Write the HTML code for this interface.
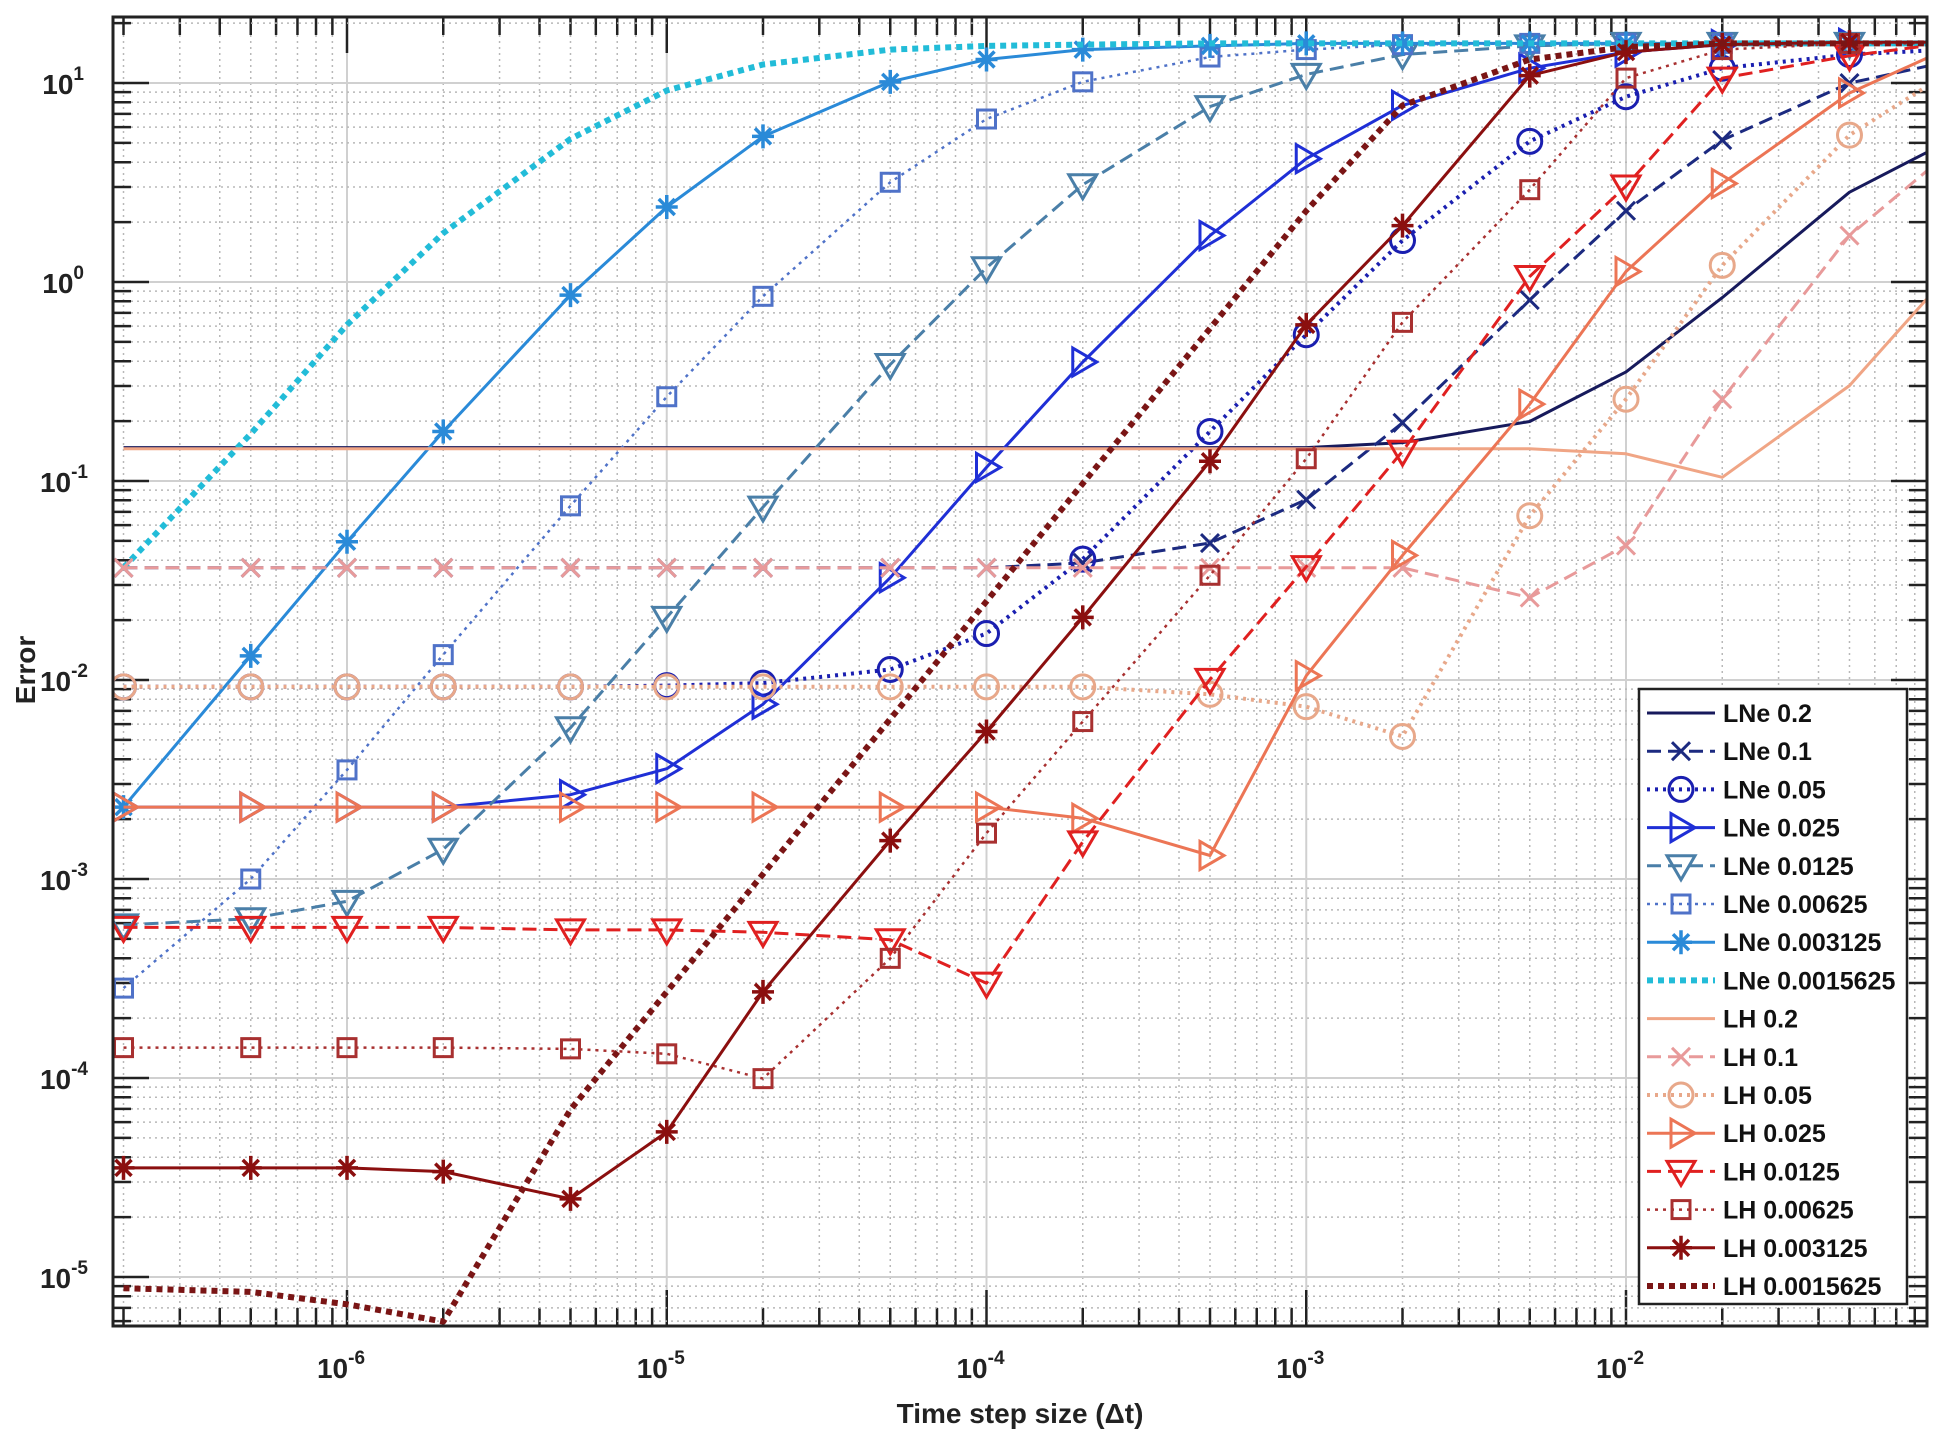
<!DOCTYPE html>
<html><head><meta charset="utf-8"><style>
html,body{margin:0;padding:0;background:#fff;}
svg{display:block;font-family:"Liberation Sans",Arial,sans-serif;}
</style></head><body>
<svg id="s" width="1944" height="1438" xmlns="http://www.w3.org/2000/svg"></svg>
<script>
const S=1.2398;
const L=113,R=1927,T=17,B=1326;
const X=lg=>347+(lg+6)*319.75;
const Y=lg=>83+(1-lg)*199;
let h='';
h+=`<rect x="0" y="0" width="1944" height="1438" fill="#fff"/>`;
h+=`<defs><clipPath id="c"><rect x="${L}" y="${T}" width="${R-L}" height="${B-T}"/></clipPath></defs>`;
const xmin=Math.log10(1.86e-7), xmax=Math.log10(0.087);
for(let d=-7;d<=-1;d++){for(let k=1;k<10;k++){const lg=d+Math.log10(k);if(lg<xmin||lg>xmax)continue;const x=X(lg);
 if(k==1)h+=`<line x1="${x}" y1="${T}" x2="${x}" y2="${B}" stroke="#d0d0d0" stroke-width="2"/>`;
 else h+=`<line x1="${x}" y1="${T}" x2="${x}" y2="${B}" stroke="#b8b8b8" stroke-width="1.5" stroke-dasharray="2 4"/>`;
 const tl=k==1?36:18;
 h+=`<line x1="${x}" y1="${B}" x2="${x}" y2="${B-tl}" stroke="#222" stroke-width="2.5"/><line x1="${x}" y1="${T}" x2="${x}" y2="${T+tl}" stroke="#222" stroke-width="2.5"/>`;
 if(k==1)h+=`<text x="${x-6}" y="1378" font-size="28" font-weight="bold" text-anchor="middle" fill="#222">10<tspan dy="-14" font-size="19">${d}</tspan></text>`;
}}
for(let d=-6;d<=1;d++){for(let k=1;k<10;k++){const lg=d+Math.log10(k);const y=Y(lg);if(y<T||y>B)continue;
 if(k==1)h+=`<line x1="${L}" y1="${y}" x2="${R}" y2="${y}" stroke="#d0d0d0" stroke-width="2"/>`;
 else h+=`<line x1="${L}" y1="${y}" x2="${R}" y2="${y}" stroke="#b8b8b8" stroke-width="1.5" stroke-dasharray="2 4"/>`;
 const tl=k==1?36:18;
 h+=`<line x1="${L}" y1="${y}" x2="${L+tl}" y2="${y}" stroke="#222" stroke-width="2.5"/><line x1="${R}" y1="${y}" x2="${R-tl}" y2="${y}" stroke="#222" stroke-width="2.5"/>`;
 if(k==1)h+=`<text x="${d<0?88:84}" y="${y+11}" font-size="28" font-weight="bold" text-anchor="end" fill="#222">10<tspan dy="-14" font-size="19">${d}</tspan></text>`;
}}
const xv=[2e-7,5e-7,1e-6,2e-6,5e-6,1e-5,2e-5,5e-5,1e-4,2e-4,5e-4,1e-3,2e-3,5e-3,1e-2,2e-2,5e-2,1e-1].map(v=>X(Math.log10(v)));
function rep(v,n){return Array(n).fill(v);}
const series=[
 ["LNe 0.2","#171a5c","solid",null,3,[...rep(361,12),357,340,300,240,155,115]],
 ["LNe 0.1","#1c2a80","dash","x",3,[...rep(458,9),454,438,403,341,242,170,113,67,50]],
 ["LNe 0.05","#1a1fb0","dot","o",4,[554,554,554,554,554,553,551,540,511,451,348,270,194,114,78,55,44,40]],
 ["LNe 0.025","#1f2fd6","solid",">",3,[651,651,651,651,641,620,568,466,377,292,190,128,85,55,42,36,35,35]],
 ["LNe 0.0125","#4a7fa8","dash","v",3,[746,741,727,685,587,498,409,294,216,149,86,60,44,37,35,35,35,35]],
 ["LNe 0.00625","#4f72c8","dot","s",2.5,[797,709,621,528,408,320,239,147,96,66,46,40,36,35,35,35,35,35]],
 ["LNe 0.003125","#2a8ad8","solid","*",3,[651,529,437,348,238,167,110,66,48,40,37,35,35,35,35,35,35,35]],
 ["LNe 0.0015625","#22bcd8","thick",null,6,[458,350,262,188,112,73,52,40,37,36,35,35,35,35,35,35,35,35]],
 ["LH 0.2","#f0a585","solid",null,3,[...rep(362,14),366,385,311,224]],
 ["LH 0.1","#e89a9a","dash","x",3,[...rep(458,13),482,440,322,190,125]],
 ["LH 0.05","#e8a88a","dot","o",4,[...rep(554,10),560,570,594,416,322,214,109,60]],
 ["LH 0.025","#ec7555","solid",">",3,[...rep(651,9),660,690,545,448,326,219,148,75,40]],
 ["LH 0.0125","#e02020","dash","v",3,[748,748,748,748,750,750,752,758,793,679,548,457,364,223,150,63,45,35]],
 ["LH 0.00625","#a83030","dot","s",2.5,[845,845,845,845,846,850,870,773,672,582,464,370,260,153,63,40,35,35]],
 ["LH 0.003125","#8b0f0f","solid","*",3,[942,942,942,945,967,913,800,678,590,498,372,262,182,61,42,36,34,34]],
 ["LH 0.0015625","#7a1515","thick",null,6,[1039,1042,1052,1066,895,800,705,580,485,390,265,170,85,48,38,35,35,35]],
];
function dash(t){return t=="dash"?'stroke-dasharray="14 7"':t=="dot"?'stroke-dasharray="3 5"':t=="thick"?'stroke-dasharray="6 5"':'';}
function mk(m,x,y,c){
 const r=12;
 if(m=="x")return `<path d="M${x-9} ${y-9}L${x+9} ${y+9}M${x-9} ${y+9}L${x+9} ${y-9}" stroke="${c}" stroke-width="3" fill="none"/>`;
 if(m=="o")return `<circle cx="${x}" cy="${y}" r="${r}" stroke="${c}" stroke-width="3" fill="none"/>`;
 if(m==">")return `<path d="M${x-10} ${y-14}L${x+14} ${y}L${x-10} ${y+14}Z" stroke="${c}" stroke-width="3" fill="none"/>`;
 if(m=="v")return `<path d="M${x-14} ${y-10}L${x+14} ${y-10}L${x} ${y+14}Z" stroke="${c}" stroke-width="3" fill="none"/>`;
 if(m=="s")return `<rect x="${x-9}" y="${y-9}" width="18" height="18" stroke="${c}" stroke-width="3" fill="none"/>`;
 if(m=="*")return `<path d="M${x-11} ${y}L${x+11} ${y}M${x} ${y-12}L${x} ${y+12}M${x-8} ${y-8}L${x+8} ${y+8}M${x-8} ${y+8}L${x+8} ${y-8}" stroke="${c}" stroke-width="3.5" fill="none"/>`;
 return '';
}
h+=`<g clip-path="url(#c)">`;
for(const s of series){
 const pts=s[5].map((v,i)=>[xv[i],v*S]);
 h+=`<polyline points="${pts.map(p=>p[0].toFixed(1)+','+p[1].toFixed(1)).join(' ')}" fill="none" stroke="${s[1]}" stroke-width="${s[4]}" ${dash(s[2])} stroke-linejoin="round"/>`;
 if(s[3])for(const p of pts)h+=mk(s[3],p[0],p[1],s[1]);
}
h+=`</g>`;
h+=`<rect x="${L}" y="${T}" width="${R-L}" height="${B-T}" fill="none" stroke="#222" stroke-width="3"/>`;
const lx=1639,ly=689,lw=268,lh=615;
h+=`<rect x="${lx}" y="${ly}" width="${lw}" height="${lh}" fill="#fff" stroke="#222" stroke-width="2.5"/>`;
series.forEach((s,i)=>{const y=713+i*38.2;
 h+=`<line x1="1647" y1="${y}" x2="1715" y2="${y}" stroke="${s[1]}" stroke-width="${s[4]}" ${dash(s[2])}/>`;
 if(s[3])h+=mk(s[3],1681,y,s[1]);
 h+=`<text x="1723" y="${y+9}" font-size="25" font-weight="bold" fill="#111">${s[0]}</text>`;
});
h+=`<text x="1020" y="1423" font-size="28" font-weight="bold" text-anchor="middle" fill="#222">Time step size (Δt)</text>`;
h+=`<text transform="translate(35,670) rotate(-90)" font-size="28" font-weight="bold" text-anchor="middle" fill="#222">Error</text>`;
document.getElementById('s').innerHTML=h;
</script>
</body></html>
